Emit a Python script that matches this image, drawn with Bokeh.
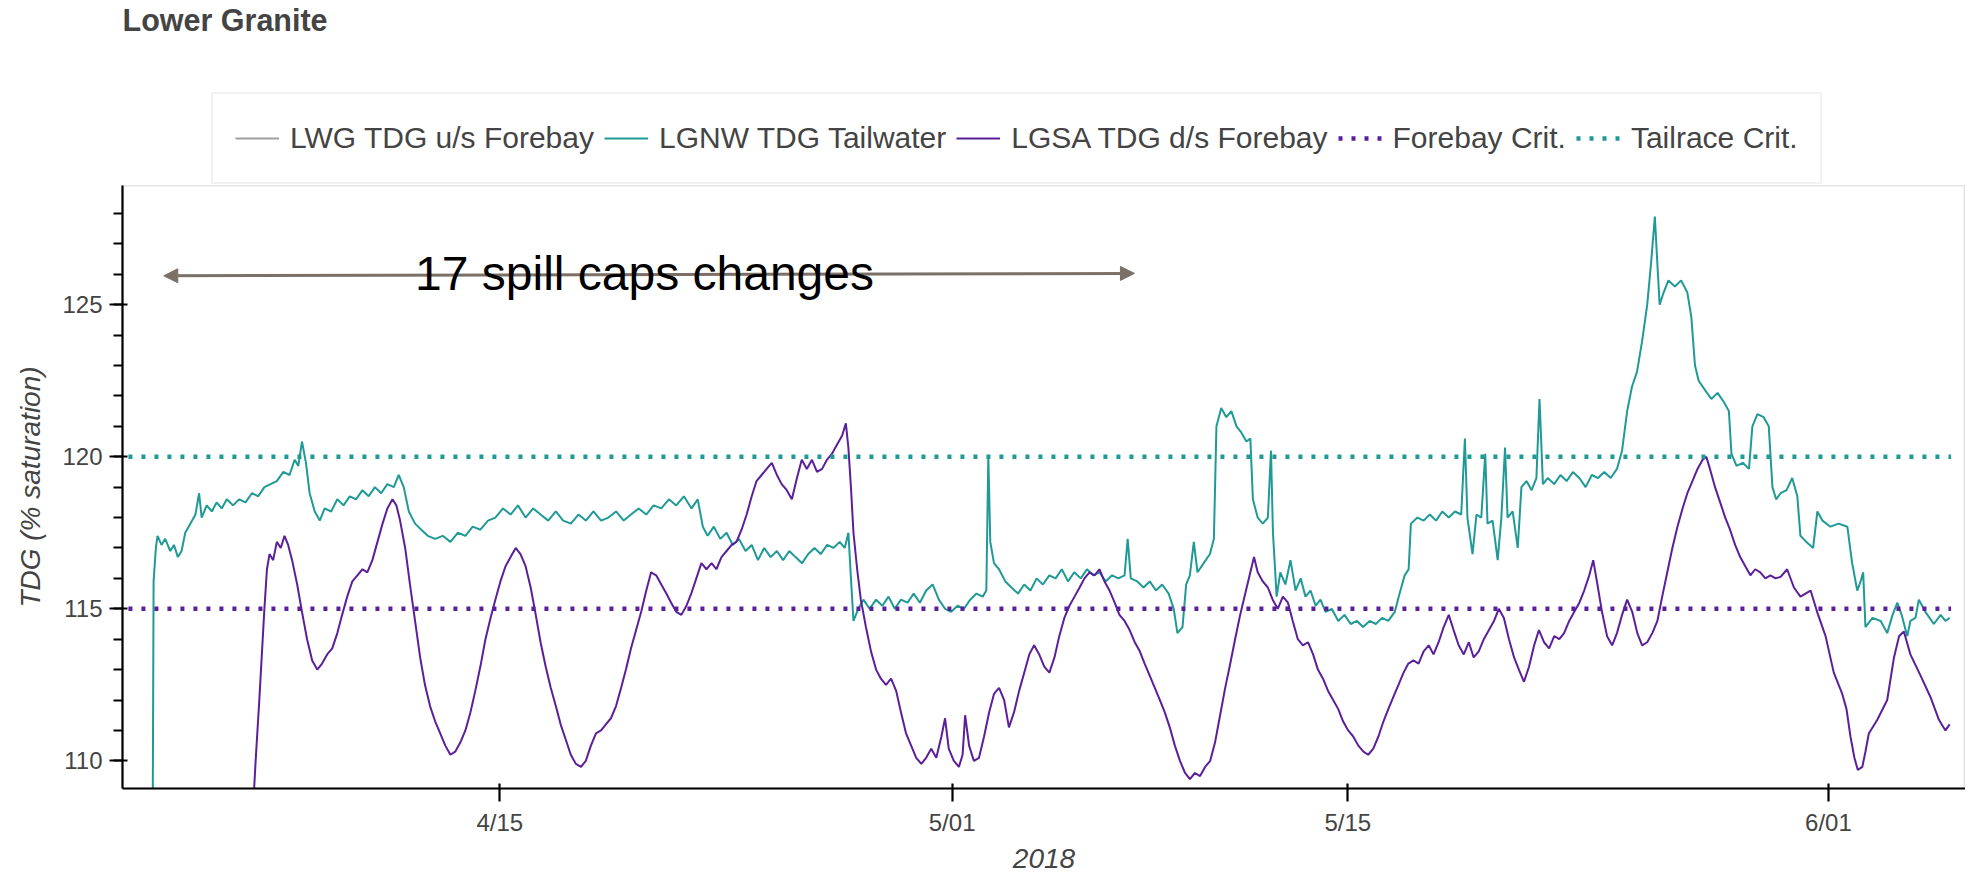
import pandas as pd
from bokeh.plotting import figure
from bokeh.layouts import column
from bokeh.models import (ColumnDataSource, Range1d, FixedTicker, Legend, LegendItem,
                          Arrow, NormalHead, Label, DatetimeTickFormatter)
from bokeh.embed import file_html
from bokeh.resources import INLINE

# ---------------- data (time = days after 2018-04-15 00:00) ----------------
BASE = "2018-04-15"

tailwater_day = [
    -12.28, -12.25, -12.17, -12.11, -11.97, -11.84, -11.66, -11.53, -11.39, -11.26,
    -11.13, -10.95, -10.77, -10.64, -10.55, -10.37, -10.19, -10.02, -9.84, -9.66,
    -9.44, -9.22, -9.00, -8.77, -8.55, -8.33, -8.11, -7.89, -7.66, -7.44,
    -7.26, -7.13, -7.00, -6.86, -6.73, -6.55, -6.37, -6.20, -5.97, -5.75,
    -5.53, -5.31, -5.09, -4.86, -4.64, -4.42, -4.20, -3.98, -3.75, -3.58,
    -3.40, -3.22, -3.00, -2.78, -2.55, -2.29, -2.02, -1.75, -1.49, -1.22,
    -0.96, -0.69, -0.42, -0.16, 0.11, 0.38, 0.64, 0.91, 1.18, 1.44,
    1.71, 1.98, 2.24, 2.51, 2.78, 3.04, 3.31, 3.58, 3.84, 4.11,
    4.38, 4.64, 4.91, 5.18, 5.44, 5.71, 5.98, 6.24, 6.51, 6.78,
    7.00, 7.18, 7.35, 7.57, 7.80, 8.02, 8.24, 8.46, 8.69, 8.91,
    9.13, 9.35, 9.58, 9.80, 10.02, 10.24, 10.46, 10.69, 10.91, 11.13,
    11.35, 11.58, 11.80, 12.02, 12.20, 12.33, 12.42, 12.51, 12.68, 12.86,
    13.08, 13.31, 13.53, 13.75, 13.97, 14.19, 14.42, 14.64, 14.86, 15.08,
    15.31, 15.53, 15.75, 15.97, 16.19, 16.42, 16.64, 16.86, 17.08, 17.21,
    17.28, 17.35, 17.48, 17.66, 17.88, 18.10, 18.33, 18.55, 18.77, 18.99,
    19.21, 19.44, 19.66, 19.88, 20.10, 20.32, 20.55, 20.77, 20.99, 21.21,
    21.43, 21.66, 21.88, 22.10, 22.21, 22.32, 22.55, 22.77, 22.99, 23.21,
    23.43, 23.66, 23.84, 23.97, 24.15, 24.28, 24.41, 24.55, 24.68, 24.90,
    25.12, 25.26, 25.35, 25.52, 25.70, 25.88, 26.06, 26.23, 26.41, 26.55,
    26.64, 26.81, 26.99, 27.17, 27.28, 27.35, 27.48, 27.61, 27.79, 27.97,
    28.15, 28.33, 28.50, 28.68, 28.86, 29.03, 29.21, 29.43, 29.66, 29.88,
    30.10, 30.32, 30.54, 30.77, 30.99, 31.21, 31.43, 31.66, 31.83, 32.01,
    32.15, 32.23, 32.46, 32.68, 32.90, 33.12, 33.34, 33.57, 33.79, 34.01,
    34.14, 34.23, 34.41, 34.55, 34.72, 34.86, 34.94, 35.12, 35.30, 35.43,
    35.56, 35.65, 35.83, 36.01, 36.14, 36.32, 36.50, 36.67, 36.78, 36.90,
    37.07, 37.30, 37.52, 37.74, 37.96, 38.19, 38.41, 38.63, 38.85, 39.07,
    39.30, 39.52, 39.70, 39.88, 40.05, 40.23, 40.41, 40.59, 40.72, 40.86,
    40.94, 41.03, 41.17, 41.34, 41.57, 41.79, 42.01, 42.15, 42.28, 42.41,
    42.63, 42.86, 43.08, 43.30, 43.48, 43.57, 43.75, 43.97, 44.19, 44.31,
    44.49, 44.71, 44.89, 45.02, 45.15, 45.31, 45.52, 45.72, 45.90, 46.01,
    46.22, 46.46, 46.61, 46.79, 47.07, 47.36, 47.67, 47.84, 48.02, 48.14,
    48.23, 48.31, 48.56, 48.85, 49.08, 49.27, 49.44, 49.59, 49.79, 49.90,
    50.08, 50.20, 50.43, 50.73, 50.97, 51.14, 51.29,
]
tailwater_tdg = [
    108.5, 115.9, 117.0, 117.4, 117.1, 117.3, 116.9, 117.1, 116.7, 116.9,
    117.5, 117.8, 118.1, 118.8, 118.0, 118.4, 118.2, 118.5, 118.3, 118.6,
    118.4, 118.6, 118.5, 118.8, 118.7, 119.0, 119.1, 119.2, 119.5, 119.4,
    119.9, 119.7, 120.5, 119.8, 118.8, 118.2, 117.9, 118.3, 118.2, 118.6,
    118.4, 118.7, 118.6, 118.9, 118.7, 119.0, 118.8, 119.1, 119.0, 119.4,
    119.0, 118.2, 117.8, 117.6, 117.4, 117.3, 117.4, 117.2, 117.5, 117.4,
    117.7, 117.6, 117.9, 118.0, 118.3, 118.1, 118.4, 118.0, 118.3, 118.1,
    117.9, 118.2, 117.9, 117.8, 118.1, 117.9, 118.2, 117.9, 118.0, 118.2,
    117.9, 118.1, 118.3, 118.1, 118.4, 118.3, 118.6, 118.4, 118.7, 118.3,
    118.6, 117.7, 117.4, 117.7, 117.3, 117.5, 117.1, 117.3, 116.9, 117.1,
    116.6, 117.0, 116.7, 116.9, 116.6, 116.9, 116.7, 116.5, 116.8, 117.0,
    116.8, 117.1, 117.0, 117.2, 117.0, 117.5, 116.0, 114.6, 115.0, 115.3,
    115.0, 115.3, 115.1, 115.4, 115.0, 115.3, 115.2, 115.5, 115.2, 115.6,
    115.8, 115.3, 115.0, 114.9, 115.1, 115.0, 115.3, 115.5, 115.4, 115.6,
    120.0, 117.2, 116.5, 116.3, 115.9, 115.7, 115.5, 115.8, 115.6, 116.0,
    115.8, 116.1, 116.0, 116.3, 115.9, 116.2, 116.0, 116.3, 116.1, 116.2,
    115.9, 116.1, 116.0, 116.1, 117.3, 116.0, 115.9, 115.7, 115.9, 115.6,
    115.8, 115.5, 115.0, 114.2, 114.4, 115.8, 116.1, 117.2, 116.2, 116.5,
    116.8, 117.3, 121.0, 121.6, 121.3, 121.5, 121.0, 120.8, 120.5, 120.6,
    118.6, 118.0, 117.8, 118.0, 120.2, 117.5, 115.4, 116.2, 115.8, 116.6,
    115.6, 116.0, 115.4, 115.6, 115.1, 115.3, 114.9, 115.0, 114.6, 114.8,
    114.5, 114.6, 114.4, 114.6, 114.5, 114.7, 114.6, 114.9, 115.5, 116.1,
    116.3, 117.8, 118.0, 117.9, 118.1, 117.9, 118.2, 118.0, 118.2, 118.1,
    120.6, 118.0, 116.8, 118.1, 118.0, 120.1, 117.8, 117.9, 116.6, 118.0,
    120.3, 118.0, 118.2, 117.0, 119.0, 119.2, 118.9, 119.3, 121.9, 119.1,
    119.3, 119.1, 119.4, 119.2, 119.5, 119.3, 119.0, 119.4, 119.3, 119.5,
    119.3, 119.6, 120.2, 121.5, 122.3, 122.8, 123.8, 125.0, 126.3, 127.9,
    126.5, 125.0, 125.4, 125.8, 125.6, 125.8, 125.4, 124.6, 123.0, 122.5,
    122.2, 121.9, 122.1, 121.8, 121.5, 120.1, 119.7, 119.8, 119.6, 121.0,
    121.4, 121.3, 121.0, 119.0, 118.6, 118.8, 118.9, 119.3, 118.7, 117.4,
    117.2, 117.0, 118.2, 117.9, 117.7, 117.8, 117.7, 116.5, 115.6, 115.9,
    116.2, 114.4, 114.7, 114.6, 114.2, 114.8, 115.2, 114.8, 114.1, 114.6,
    114.7, 115.3, 114.9, 114.5, 114.8, 114.6, 114.7,
]

dsforebay_day = [
    -8.71, -8.64, -8.51, -8.42, -8.33, -8.24, -8.15, -8.02, -7.89, -7.75,
    -7.62, -7.49, -7.35, -7.17, -7.00, -6.82, -6.64, -6.46, -6.29, -6.11,
    -5.93, -5.75, -5.58, -5.40, -5.22, -5.04, -4.86, -4.69, -4.51, -4.33,
    -4.15, -3.98, -3.80, -3.66, -3.53, -3.35, -3.18, -3.00, -2.82, -2.65,
    -2.47, -2.29, -2.11, -1.93, -1.75, -1.58, -1.40, -1.22, -1.04, -0.87,
    -0.69, -0.51, -0.33, -0.16, 0.02, 0.20, 0.38, 0.56, 0.73, 0.91,
    1.09, 1.27, 1.44, 1.62, 1.80, 1.98, 2.15, 2.33, 2.51, 2.69,
    2.87, 3.04, 3.22, 3.40, 3.58, 3.75, 3.93, 4.11, 4.29, 4.46,
    4.64, 4.82, 5.00, 5.18, 5.35, 5.53, 5.71, 5.89, 6.06, 6.24,
    6.42, 6.60, 6.77, 6.95, 7.13, 7.31, 7.49, 7.66, 7.84, 8.02,
    8.20, 8.37, 8.55, 8.73, 8.91, 9.08, 9.26, 9.44, 9.62, 9.80,
    9.97, 10.15, 10.33, 10.51, 10.68, 10.86, 11.04, 11.22, 11.40, 11.57,
    11.75, 11.93, 12.11, 12.24, 12.33, 12.42, 12.51, 12.64, 12.77, 12.95,
    13.13, 13.31, 13.48, 13.66, 13.84, 14.02, 14.19, 14.37, 14.55, 14.73,
    14.91, 15.08, 15.26, 15.44, 15.62, 15.75, 15.88, 16.06, 16.24, 16.37,
    16.46, 16.60, 16.77, 16.95, 17.13, 17.31, 17.48, 17.66, 17.84, 18.01,
    18.19, 18.37, 18.55, 18.73, 18.90, 19.08, 19.26, 19.44, 19.62, 19.79,
    19.97, 20.15, 20.33, 20.51, 20.68, 20.86, 21.04, 21.21, 21.39, 21.57,
    21.75, 21.92, 22.10, 22.28, 22.46, 22.64, 22.81, 22.99, 23.17, 23.35,
    23.52, 23.70, 23.88, 24.06, 24.24, 24.41, 24.59, 24.77, 24.95, 25.13,
    25.30, 25.48, 25.66, 25.84, 26.01, 26.19, 26.37, 26.55, 26.68, 26.81,
    26.99, 27.17, 27.34, 27.52, 27.70, 27.88, 28.05, 28.23, 28.41, 28.59,
    28.77, 28.94, 29.12, 29.30, 29.48, 29.66, 29.83, 30.01, 30.19, 30.37,
    30.55, 30.72, 30.90, 31.08, 31.26, 31.43, 31.61, 31.79, 31.97, 32.14,
    32.32, 32.50, 32.68, 32.86, 33.03, 33.21, 33.39, 33.57, 33.74, 33.92,
    34.10, 34.28, 34.45, 34.63, 34.81, 34.99, 35.17, 35.34, 35.52, 35.70,
    35.88, 36.05, 36.23, 36.41, 36.59, 36.76, 36.94, 37.12, 37.30, 37.48,
    37.65, 37.83, 38.01, 38.19, 38.36, 38.54, 38.68, 38.81, 38.99, 39.17,
    39.35, 39.52, 39.70, 39.88, 40.06, 40.24, 40.41, 40.59, 40.77, 40.95,
    41.12, 41.30, 41.48, 41.66, 41.84, 42.01, 42.19, 42.37, 42.55, 42.68,
    42.81, 42.99, 43.17, 43.35, 43.52, 43.70, 43.88, 44.06, 44.24, 44.41,
    44.59, 44.77, 44.95, 45.13, 45.31, 45.54, 45.78, 46.01, 46.19, 46.37,
    46.60, 46.90, 47.19, 47.49, 47.64, 47.78, 47.92, 48.04, 48.20, 48.31,
    48.43, 48.73, 49.08, 49.32, 49.50, 49.67, 49.90, 50.26, 50.61, 50.91,
    51.14, 51.29,
]
dsforebay_tdg = [
    108.8, 110.0, 112.0, 113.5, 115.0, 116.3, 116.8, 116.6, 117.2, 117.0,
    117.4, 117.1, 116.6, 115.8, 114.9, 114.0, 113.3, 113.0, 113.2, 113.5,
    113.7, 114.2, 114.8, 115.4, 115.9, 116.1, 116.3, 116.2, 116.6, 117.2,
    117.8, 118.3, 118.6, 118.4, 117.9, 117.0, 115.8, 114.6, 113.4, 112.5,
    111.8, 111.3, 110.9, 110.5, 110.2, 110.3, 110.6, 111.0, 111.6, 112.3,
    113.1, 114.0, 114.7, 115.3, 115.9, 116.4, 116.7, 117.0, 116.8, 116.4,
    115.7, 114.8, 113.9, 113.1, 112.4, 111.8, 111.2, 110.7, 110.2, 109.9,
    109.8, 110.0, 110.5, 110.9, 111.0, 111.2, 111.4, 111.8, 112.4, 113.0,
    113.7, 114.3, 114.9, 115.6, 116.2, 116.1, 115.8, 115.5, 115.2, 114.9,
    114.8, 115.1, 115.5, 116.0, 116.5, 116.3, 116.5, 116.3, 116.7, 116.9,
    117.1, 117.2, 117.6, 118.1, 118.7, 119.2, 119.4, 119.6, 119.8, 119.4,
    119.1, 118.9, 118.6, 119.3, 119.9, 119.6, 119.9, 119.5, 119.6, 119.9,
    120.1, 120.4, 120.7, 121.1, 120.3, 119.0, 117.5, 116.3, 115.3, 114.4,
    113.6, 113.0, 112.7, 112.5, 112.7, 112.3, 111.6, 110.9, 110.5, 110.1,
    109.9, 110.1, 110.4, 110.1, 110.8, 111.4, 110.4, 110.0, 109.8, 110.2,
    111.5, 110.5, 110.0, 110.1, 110.8, 111.6, 112.2, 112.4, 112.0, 111.1,
    111.6, 112.3, 112.9, 113.5, 113.8, 113.5, 113.1, 112.9, 113.4, 114.1,
    114.7, 115.1, 115.4, 115.7, 116.0, 116.2, 116.1, 116.3, 115.9, 115.6,
    115.2, 114.8, 114.6, 114.3, 113.9, 113.6, 113.2, 112.8, 112.4, 112.0,
    111.6, 111.1, 110.5, 110.0, 109.6, 109.4, 109.6, 109.5, 109.8, 110.0,
    110.6, 111.5, 112.4, 113.2, 114.0, 114.8, 115.5, 116.2, 116.7, 116.2,
    115.9, 115.7, 115.3, 115.0, 115.4, 115.2, 114.6, 114.0, 113.8, 113.9,
    113.5, 113.0, 112.7, 112.3, 112.0, 111.7, 111.3, 111.0, 110.8, 110.5,
    110.3, 110.2, 110.4, 110.8, 111.3, 111.7, 112.1, 112.5, 112.9, 113.2,
    113.3, 113.2, 113.6, 113.8, 113.5, 113.9, 114.4, 114.8, 114.3, 113.8,
    113.5, 113.9, 113.4, 113.6, 114.0, 114.3, 114.6, 115.0, 114.7, 114.0,
    113.4, 113.0, 112.6, 113.1, 113.8, 114.3, 113.9, 113.7, 114.1, 114.0,
    114.2, 114.6, 114.9, 115.2, 115.6, 116.1, 116.6, 115.9, 114.9, 114.1,
    113.8, 114.2, 114.8, 115.3, 114.9, 114.2, 113.8, 113.9, 114.2, 114.6,
    115.4, 116.2, 117.0, 117.7, 118.3, 118.8, 119.2, 119.6, 119.9, 120.0,
    119.6, 119.0, 118.5, 118.0, 117.6, 117.1, 116.7, 116.4, 116.1, 116.3,
    116.2, 116.0, 116.1, 116.0, 116.05, 116.3, 115.7, 115.4, 115.5, 115.6,
    114.9, 114.1, 112.9, 112.2, 111.7, 110.8, 110.1, 109.7, 109.8, 110.3,
    110.9, 111.35, 112.0, 113.4, 114.1, 114.25, 113.5, 112.8, 112.1, 111.35,
    111.0, 111.2,
]

usforebay_day = []      # LWG TDG u/s Forebay: no visible trace
usforebay_tdg = []

crit_day = [-13.6, 51.34]
forebay_crit = [115, 115]
tailrace_crit = [120, 120]

x_tick_day = [0, 16, 30, 47]
x_tick_labels = ["4/15", "5/01", "5/15", "6/01"]
y_ticks = [110, 115, 120, 125]
y_minor_ticks = list(range(109, 130))

view_days = (-13.35, 51.85)
y_view = (109.09, 128.92)

series_names = ["LWG TDG u/s Forebay", "LGNW TDG Tailwater", "LGSA TDG d/s Forebay",
                "Forebay Crit.", "Tailrace Crit."]

arrow_days = (-11.89, 22.45)
arrow_y = (125.95, 126.03)
note_day, note_y = -3.0, 126.04
note_text = "17 spill caps changes"
title_text = "Lower Granite"

# ---------------- helpers ----------------
base = pd.Timestamp(BASE)


def to_dt(days):
    return (base + pd.to_timedelta(pd.Series(days, dtype=float), unit="D")).values


def to_ms(day):
    return (base + pd.Timedelta(days=day)).value / 1e6


FONT = "Liberation Sans"
TEAL = "#1f9a96"
PURPLE = "#5b1f9a"
GRAY = "#a0a0a0"
TXT = "#444444"
ARROW_C = "#7a7068"

W = 1965
TOP_H = 185
MAIN_H = 687

styles = [
    dict(line_color=GRAY, line_width=2.2),
    dict(line_color=TEAL, line_width=2),
    dict(line_color=PURPLE, line_width=2),
    dict(line_color=PURPLE, line_width=4.4, line_dash="4 9"),
    dict(line_color=TEAL, line_width=4.4, line_dash="4 9"),
]

# ---------------- header figure: title + legend ----------------
top = figure(width=W, height=TOP_H, x_range=Range1d(0, 1), y_range=Range1d(0, 1),
             x_axis_location=None, y_axis_location=None,
             output_backend="svg", toolbar_location=None, title=title_text,
             min_border_left=122, min_border_right=0, min_border_top=0, min_border_bottom=0)
top.outline_line_color = None
top.background_fill_color = "white"
top.border_fill_color = "white"
top.grid.visible = False
top.title.text_font = FONT
top.title.text_font_size = "30.5px"
top.title.text_font_style = "bold"
top.title.text_color = TXT
top.title.align = "left"
top.title.standoff = 0

# legend key glyphs (kept outside the header's visible range)
key_renderers = [top.line(x=[-3, -2], y=[-3, -2], **st) for st in styles]
legend = Legend(items=[LegendItem(label=n, renderers=[r]) for n, r in zip(series_names, key_renderers)],
                orientation="horizontal", location=(89, 1), margin=0, padding=22,
                spacing=10, glyph_width=44, glyph_height=44, label_height=44, label_standoff=11,
                label_text_font=FONT, label_text_font_size="30px", label_text_color=TXT,
                border_line_color="#e5e5e5", border_line_width=2, background_fill_alpha=1)
top.add_layout(legend)

# ---------------- main figure ----------------
p = figure(width=W, height=MAIN_H, x_axis_type="datetime",
           x_range=Range1d(to_ms(view_days[0]), to_ms(view_days[1])),
           y_range=Range1d(*y_view),
           output_backend="svg", toolbar_location=None, title=None,
           min_border_left=122, min_border_right=0, min_border_top=0, min_border_bottom=84)
p.background_fill_color = "white"
p.border_fill_color = "white"
p.outline_line_color = "#e5e5e5"
p.outline_line_width = 2
p.xgrid.visible = False
p.ygrid.visible = False

p.line(x="x", y="y", source=ColumnDataSource(dict(x=to_dt(usforebay_day), y=usforebay_tdg)), **styles[0])
p.line(x="x", y="y", source=ColumnDataSource(dict(x=to_dt(tailwater_day), y=tailwater_tdg)), **styles[1])
p.line(x="x", y="y", source=ColumnDataSource(dict(x=to_dt(dsforebay_day), y=dsforebay_tdg)), **styles[2])
p.line(x="x", y="y", source=ColumnDataSource(dict(x=to_dt(crit_day), y=forebay_crit)), **styles[3])
p.line(x="x", y="y", source=ColumnDataSource(dict(x=to_dt(crit_day), y=tailrace_crit)), **styles[4])

for ax in (p.xaxis[0], p.yaxis[0]):
    ax.axis_line_width = 2.2
    ax.axis_line_color = "black"
    ax.major_tick_line_width = 2.2
    ax.major_tick_line_color = "black"
    ax.minor_tick_line_width = 2.2
    ax.minor_tick_line_color = "black"
    ax.major_tick_out = 13
    ax.major_tick_in = 5
    ax.minor_tick_out = 9
    ax.minor_tick_in = 0
    ax.major_label_text_font = FONT
    ax.major_label_text_font_size = "24px"
    ax.major_label_text_color = TXT
    ax.axis_label_text_font = FONT
    ax.axis_label_text_font_size = "28px"
    ax.axis_label_text_font_style = "italic"
    ax.axis_label_text_color = TXT

p.xaxis.ticker = FixedTicker(ticks=[to_ms(d) for d in x_tick_day], minor_ticks=[])
p.xaxis.formatter = DatetimeTickFormatter(days="%m/%d", months="%m/%d")
p.xaxis.major_label_overrides = {to_ms(d): lbl for d, lbl in zip(x_tick_day, x_tick_labels)}
p.xaxis.axis_label = "2018"
p.xaxis.major_label_standoff = 7
p.xaxis.axis_label_standoff = 10

p.yaxis.ticker = FixedTicker(ticks=y_ticks, minor_ticks=y_minor_ticks)
p.yaxis.axis_label = "TDG (% saturation)"
p.yaxis.major_label_standoff = 7
p.yaxis.axis_label_standoff = 13

head = dict(size=14, fill_color=ARROW_C, line_color=ARROW_C)
p.add_layout(Arrow(x_start=to_ms(arrow_days[0]), y_start=arrow_y[0],
                   x_end=to_ms(arrow_days[1]), y_end=arrow_y[1],
                   start=NormalHead(**head), end=NormalHead(**head),
                   line_color=ARROW_C, line_width=3))
p.add_layout(Label(x=to_ms(note_day), y=note_y, text=note_text, text_font=FONT,
                   text_font_size="48px", text_color="black", text_baseline="alphabetic"))

page = column(top, p, spacing=0)
open("out.html", "w").write(file_html(page, INLINE))
